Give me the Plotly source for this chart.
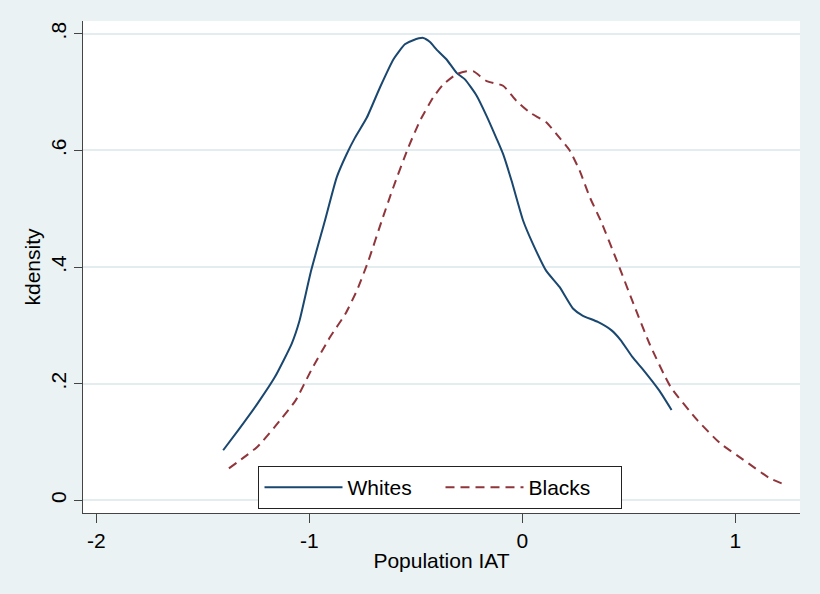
import plotly.graph_objects as go

# Whites kernel density
whites_x = [-1.405, -1.333, -1.244, -1.163, -1.083, -1.046, -0.992, -0.927, -0.872, -0.825,
            -0.786, -0.731, -0.669, -0.606, -0.552, -0.513, -0.466, -0.434, -0.403, -0.356,
            -0.309, -0.270, -0.215, -0.168, -0.121, -0.091, -0.051, 0.003, 0.049, 0.111,
            0.174, 0.237, 0.282, 0.354, 0.417, 0.461, 0.516, 0.569, 0.641, 0.700]
whites_y = [0.086, 0.121, 0.166, 0.211, 0.269, 0.309, 0.394, 0.480, 0.554, 0.594,
            0.622, 0.656, 0.708, 0.756, 0.782, 0.789, 0.793, 0.786, 0.773, 0.756,
            0.733, 0.722, 0.694, 0.659, 0.620, 0.594, 0.548, 0.480, 0.440, 0.394,
            0.366, 0.329, 0.317, 0.306, 0.292, 0.275, 0.246, 0.223, 0.189, 0.155]

# Blacks kernel density
blacks_x = [-1.378, -1.244, -1.136, -1.064, -0.992, -0.903, -0.831, -0.777, -0.723, -0.660,
            -0.606, -0.536, -0.481, -0.419, -0.372, -0.309, -0.262, -0.231, -0.168, -0.091,
            -0.028, 0.035, 0.113, 0.160, 0.222, 0.269, 0.316, 0.367, 0.443, 0.515,
            0.596, 0.695, 0.820, 0.928, 1.036, 1.161, 1.233]
blacks_y = [0.055, 0.092, 0.138, 0.172, 0.223, 0.280, 0.320, 0.360, 0.411, 0.480,
            0.537, 0.605, 0.651, 0.691, 0.713, 0.731, 0.736, 0.736, 0.719, 0.711,
            0.685, 0.665, 0.648, 0.628, 0.600, 0.565, 0.520, 0.480, 0.411, 0.343,
            0.269, 0.195, 0.138, 0.098, 0.070, 0.038, 0.027]

x_ticks = [-2, -1, 0, 1]
x_tick_labels = ["-2", "-1", "0", "1"]
y_ticks = [0, 0.2, 0.4, 0.6, 0.8]
y_tick_labels = ["0", ".2", ".4", ".6", ".8"]

FONT = "Arial, Liberation Sans, sans-serif"
BG = "#EAF2F3"
FS = 21

fig = go.Figure()
fig.add_trace(go.Scatter(x=whites_x, y=whites_y, mode="lines", name="Whites",
                         line=dict(color="#1a476f", width=2, shape="spline", smoothing=0.5)))
fig.add_trace(go.Scatter(x=blacks_x, y=blacks_y, mode="lines", name="Blacks",
                         line=dict(color="#90353b", width=2, dash="9px,6px", shape="spline", smoothing=0.5)))

fig.update_layout(
    width=820, height=594,
    margin=dict(l=83, r=20, t=21, b=81),
    paper_bgcolor=BG, plot_bgcolor="white",
    font=dict(family=FONT, size=FS, color="black"),
    showlegend=True,
    legend=dict(orientation="h", x=0.4986, y=0.0518, xanchor="center", yanchor="middle",
                bgcolor="white", bordercolor="#222", borderwidth=1,
                font=dict(family=FONT, size=FS, color="black"),
                entrywidth=88, itemwidth=78),
    xaxis=dict(range=[-2.063, 1.303], tickvals=x_ticks, ticktext=x_tick_labels,
               showgrid=False, zeroline=False, showline=True, linecolor="#444", linewidth=1,
               ticks="outside", ticklen=9, tickcolor="#444", tickwidth=1,
               title=dict(text="Population IAT", font=dict(size=FS), standoff=2)),
    yaxis=dict(range=[-0.0216, 0.822], tickvals=y_ticks, ticktext=y_tick_labels,
               tickangle=-90, showgrid=True, gridcolor="#E3ECEF", gridwidth=2,
               zeroline=False, showline=True, linecolor="#444", linewidth=1,
               ticks="outside", ticklen=8, tickcolor="#444", tickwidth=1,
               title=dict(text="kdensity", font=dict(size=FS), standoff=0)),
)

fig.write_html("out.html", config={"displayModeBar": False})

# remove default browser body margin so the figure fills the window
with open("out.html", "r", encoding="utf-8") as f:
    html = f.read()
html = html.replace("<body>", '<body style="margin:0;padding:0;">', 1)
with open("out.html", "w", encoding="utf-8") as f:
    f.write(html)
